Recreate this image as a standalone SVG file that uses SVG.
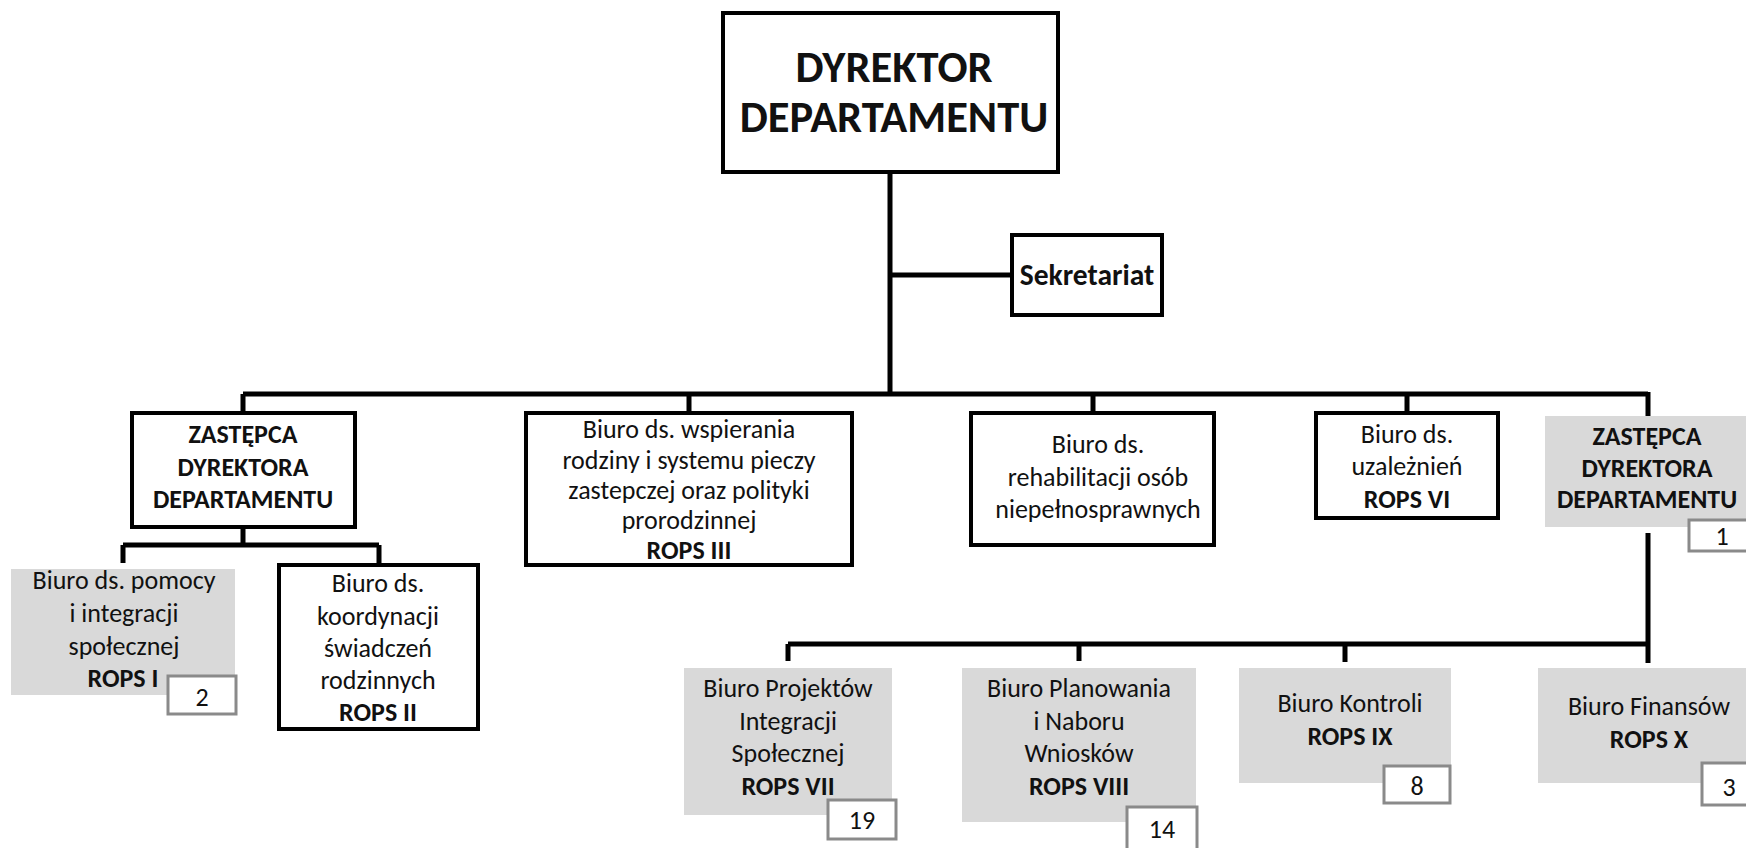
<svg xmlns="http://www.w3.org/2000/svg" width="1746" height="848" viewBox="0 0 1746 848">
<style>
.box{fill:#fff;stroke:#000;stroke-width:4}
.gbox{fill:#d9d9d9;stroke:none}
.num{fill:#fff;stroke:#8a8a8a;stroke-width:3}
.con{fill:none;stroke:#000;stroke-width:5;stroke-linecap:butt;stroke-linejoin:miter}
text{font-family:Carlito,Calibri,Lato,"Noto Sans",sans-serif;font-size:26px;fill:#111;text-anchor:middle}
.b{font-weight:bold}
.big{font-size:44.5px;font-weight:bold}
.sek{font-size:29.5px;font-weight:bold}
</style>
<rect width="1746" height="848" fill="#fff"/>
<g id="connectors">
<path class="con" d="M890 172V394M890 275H1012M243 394H1648M243 394V413M689 394V413M1093 394V413M1407 394V413M1648 392V416"/>
<path class="con" d="M243 527V545M123 545H379M123 545V563M379 545V566"/>
<path class="con" d="M1648 533V663M788 644H1648M788 644V661M1079 644V661M1345 644V662"/>
</g>
<g id="dyrektor">
<rect class="box" x="723" y="13" width="335" height="159"/>
<text class="big" x="894" y="82">DYREKTOR</text>
<text class="big" x="894" y="132">DEPARTAMENTU</text>
</g>
<g id="sekretariat">
<rect class="box" x="1012" y="235" width="150" height="80"/>
<text class="sek" x="1087" y="285">Sekretariat</text>
</g>
<g id="zastepca1">
<rect class="box" x="132" y="413" width="223" height="114"/>
<text class="b" x="243" y="443">ZASTĘPCA</text>
<text class="b" x="243" y="476">DYREKTORA</text>
<text class="b" x="243" y="508">DEPARTAMENTU</text>
</g>
<g id="rops1">
<rect class="gbox" x="11" y="569" width="224" height="126"/>
<text x="124" y="589">Biuro ds. pomocy</text>
<text x="124" y="622">i integracji</text>
<text x="124" y="655">społecznej</text>
<text class="b" x="123" y="687">ROPS I</text>
<rect class="num" x="168" y="676" width="68" height="38"/>
<text x="202" y="706">2</text>
</g>
<g id="rops2">
<rect class="box" x="279" y="565" width="199" height="164"/>
<text x="378" y="592">Biuro ds.</text>
<text x="378" y="625">koordynacji</text>
<text x="378" y="657">świadczeń</text>
<text x="378" y="689">rodzinnych</text>
<text class="b" x="378" y="721">ROPS II</text>
</g>
<g id="rops3">
<rect class="box" x="526" y="413" width="326" height="152"/>
<text x="689" y="438">Biuro ds. wspierania</text>
<text x="689" y="469">rodziny i systemu pieczy</text>
<text x="689" y="499">zastepczej oraz polityki</text>
<text x="689" y="529">prorodzinnej</text>
<text class="b" x="689" y="559">ROPS III</text>
</g>
<g id="rehabilitacja">
<rect class="box" x="971" y="413" width="243" height="132"/>
<text x="1098" y="453">Biuro ds.</text>
<text x="1098" y="486">rehabilitacji osób</text>
<text x="1098" y="518">niepełnosprawnych</text>
</g>
<g id="rops6">
<rect class="box" x="1316" y="413" width="182" height="105"/>
<text x="1407" y="443">Biuro ds.</text>
<text x="1407" y="475">uzależnień</text>
<text class="b" x="1407" y="508">ROPS VI</text>
</g>
<g id="zastepca2">
<rect class="gbox" x="1545" y="416" width="205" height="111"/>
<text class="b" x="1647" y="445">ZASTĘPCA</text>
<text class="b" x="1647" y="477">DYREKTORA</text>
<text class="b" x="1647" y="508">DEPARTAMENTU</text>
<rect class="num" x="1689" y="520" width="70" height="31"/>
<text x="1722" y="545">1</text>
</g>
<g id="rops7">
<rect class="gbox" x="684" y="668" width="208" height="147"/>
<text x="788" y="697">Biuro Projektów</text>
<text x="788" y="730">Integracji</text>
<text x="788" y="762">Społecznej</text>
<text class="b" x="788" y="795">ROPS VII</text>
<rect class="num" x="828" y="800" width="68" height="39"/>
<text x="862" y="829">19</text>
</g>
<g id="rops8">
<rect class="gbox" x="962" y="668" width="234" height="154"/>
<text x="1079" y="697">Biuro Planowania</text>
<text x="1079" y="730">i Naboru</text>
<text x="1079" y="762">Wniosków</text>
<text class="b" x="1079" y="795">ROPS VIII</text>
<rect class="num" x="1127" y="807" width="70" height="48"/>
<text x="1162" y="838">14</text>
</g>
<g id="rops9">
<rect class="gbox" x="1239" y="668" width="212" height="115"/>
<text x="1350" y="712">Biuro Kontroli</text>
<text class="b" x="1350" y="745">ROPS IX</text>
<rect class="num" x="1384" y="766" width="66" height="37"/>
<text x="1417" y="795">8</text>
</g>
<g id="rops10">
<rect class="gbox" x="1538" y="668" width="212" height="115"/>
<text x="1649" y="715">Biuro Finansów</text>
<text class="b" x="1649" y="748">ROPS X</text>
<rect class="num" x="1702" y="763" width="60" height="42"/>
<text x="1729" y="796">3</text>
</g>
</svg>
